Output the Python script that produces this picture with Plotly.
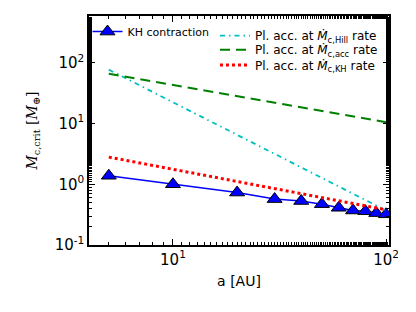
import plotly.graph_objects as go

# KH contraction critical core mass
a_kh = [5, 10, 20, 30, 40, 50, 60, 70, 80, 90, 100]
m_kh = [1.38, 1.0, 0.73, 0.57, 0.53, 0.47, 0.41, 0.37, 0.36, 0.335, 0.32]

# planetesimal accretion curves
a_line = [5, 10, 20, 50, 100]
m_hill = [77, 22.3, 6.5, 1.27, 0.37]
m_acc = [66, 43, 28, 16, 10.5]
m_khrate = [2.8, 1.77, 1.11, 0.60, 0.38]

x_tickvals = [10, 100]
x_ticktext = ["10<sup>1</sup>", "10<sup>2</sup>"]
y_tickvals = [0.1, 1, 10, 100]
y_ticktext = ["10<sup>-1</sup>", "10<sup>0</sup>", "10<sup>1</sup>", "10<sup>2</sup>"]

names = [
    "KH contraction",
    "Pl. acc. at <i>Ṁ</i><sub>c,Hill</sub> rate",
    "Pl. acc. at <i>Ṁ</i><sub>c,acc</sub> rate",
    "Pl. acc. at <i>Ṁ</i><sub>c,KH</sub> rate",
]

fig = go.Figure()
fig.add_trace(go.Scatter(
    x=a_kh, y=m_kh, mode="lines+markers", name=names[0],
    line=dict(color="blue", width=1.5),
    marker=dict(symbol="triangle-up", size=13, color="blue",
                line=dict(color="black", width=1)),
    legend="legend",
))
fig.add_trace(go.Scatter(
    x=a_line, y=m_hill, mode="lines", name=names[1],
    line=dict(color="#00BFBF", width=1.8, dash="5px,4px,1.5px,4px"),
    legend="legend2",
))
fig.add_trace(go.Scatter(
    x=a_line, y=m_acc, mode="lines", name=names[2],
    line=dict(color="green", width=2, dash="10px,6px"),
    legend="legend3",
))
fig.add_trace(go.Scatter(
    x=a_line, y=m_khrate, mode="lines", name=names[3],
    line=dict(color="red", width=3, dash="3px,3px"),
    legend="legend4",
))

axis_common = dict(
    type="log", showgrid=False, automargin=False,
    showline=True, linecolor="black", linewidth=1.5, mirror="allticks",
    ticks="inside", ticklen=6, tickcolor="black", zeroline=False,
    tickfont=dict(family="DejaVu Sans", size=15, color="black"),
    minor=dict(ticks="inside", ticklen=3, tickcolor="black", showgrid=False),
)

def row_legend(yc):
    return dict(x=0.42, y=yc, xanchor="left", yanchor="middle",
                bgcolor="rgba(0,0,0,0)", font=dict(size=12),
                itemwidth=30, tracegroupgap=0)

# page body has an 8px margin, so the figure is offset by 8px
fig.update_layout(
    width=400, height=296,
    margin=dict(l=81, r=19, t=8, b=59),
    paper_bgcolor="white", plot_bgcolor="white",
    font=dict(family="DejaVu Sans", size=11, color="black"),
    xaxis=dict(axis_common, range=[0.606, 2.014],
               tickvals=x_tickvals, ticktext=x_ticktext,
               title=dict(text="a [AU]", font=dict(size=14), standoff=8)),
    yaxis=dict(axis_common, range=[-1, 2.77],
               tickvals=y_tickvals, ticktext=y_ticktext,
               title=dict(text="<i>M</i><sub>c,crit</sub> [<i>M</i><sub>⊕</sub>]",
                          font=dict(family="DejaVu Serif", size=14), standoff=14)),
    legend=dict(x=-0.005, y=0.932, xanchor="left", yanchor="middle",
                bgcolor="rgba(0,0,0,0)", font=dict(size=11),
                itemwidth=30, tracegroupgap=0),
    legend2=row_legend(0.914),
    legend3=row_legend(0.853),
    legend4=row_legend(0.786),
    showlegend=True,
)

fig.write_html("out.html")
